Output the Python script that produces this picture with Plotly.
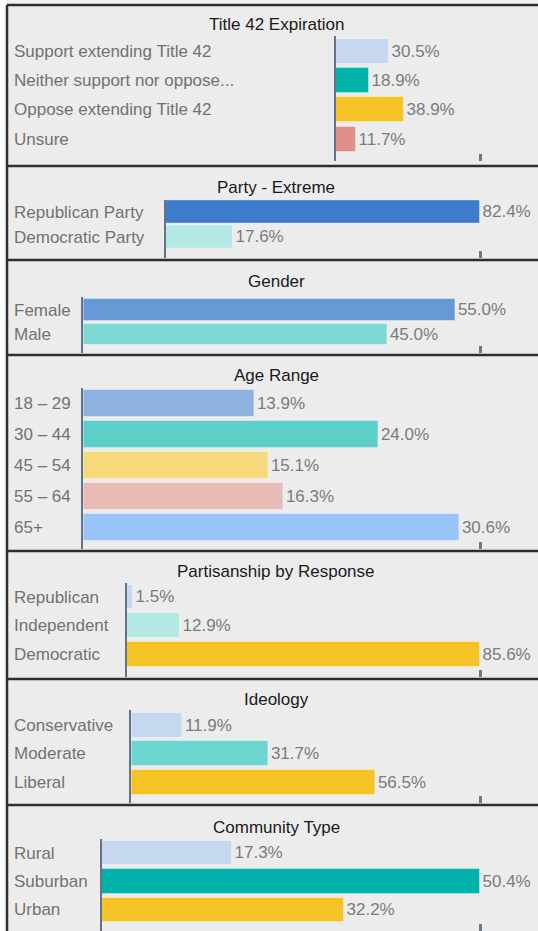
import plotly.graph_objects as go

# ---------------- data ----------------
titles = ["Title 42 Expiration", "Party - Extreme", "Gender", "Age Range",
          "Partisanship by Response", "Ideology", "Community Type"]

t42_labels = ["Support extending Title 42", "Neither support nor oppose...",
              "Oppose extending Title 42", "Unsure"]
t42_values = [30.5, 18.9, 38.9, 11.7]

party_labels = ["Republican Party", "Democratic Party"]
party_values = [82.4, 17.6]

gender_labels = ["Female", "Male"]
gender_values = [55.0, 45.0]

age_labels = ["18 – 29", "30 – 44", "45 – 54", "55 – 64", "65+"]
age_values = [13.9, 24.0, 15.1, 16.3, 30.6]

partisan_labels = ["Republican", "Independent", "Democratic"]
partisan_values = [1.5, 12.9, 85.6]

ideology_labels = ["Conservative", "Moderate", "Liberal"]
ideology_values = [11.9, 31.7, 56.5]

community_labels = ["Rural", "Suburban", "Urban"]
community_values = [17.3, 50.4, 32.2]

# ---------------- styles ----------------
t42_colors = ["#c5d8f0", "#00b2a9", "#f5c325", "#e0908a"]
party_colors = ["#3d7bcc", "#b3e8e4"]
gender_colors = ["#6699d6", "#7dd9d4"]
age_colors = ["#8fb3e0", "#5ccfc8", "#f7d97c", "#e8bbb6", "#99c4fa"]
partisan_colors = ["#c5d8f0", "#b3e8e4", "#f5c325"]
ideology_colors = ["#c5d8f0", "#6dd6d1", "#f5c325"]
community_colors = ["#c5d8f0", "#00b2a9", "#f5c325"]

panels = [
    (t42_labels, t42_values, t42_colors),
    (party_labels, party_values, party_colors),
    (gender_labels, gender_values, gender_colors),
    (age_labels, age_values, age_colors),
    (partisan_labels, partisan_values, partisan_colors),
    (ideology_labels, ideology_values, ideology_colors),
    (community_labels, community_values, community_colors),
]

# layout geometry in pixels
W, H = 538, 931
borders = [5, 166, 260, 355, 551, 679, 805]
title_offsets = [19, 21, 21, 21, 20, 20, 22]
# plot top, plot bottom, first row centre, row pitch, bar thickness, axis x, px per percent
geom = [
    (36, 161, 51.5, 29.17, 25.0, 336, 1.745),
    (199.5, 258, 212, 25.2, 22.5, 166, 3.811),
    (297, 353, 310, 24.5, 21.5, 83.4, 6.756),
    (388, 549, 403.5, 30.9, 26.8, 83.4, 12.28),
    (583, 677, 597, 28.7, 24.5, 127, 4.124),
    (710, 803, 725, 28.6, 25.0, 131.4, 4.326),
    (839, 931, 853, 28.4, 24.5, 102, 7.5),
]
TICK_X = 480
FONT = "Liberation Sans, Arial, sans-serif"
FS = 17

def py(p):
    return 1 - p / H

fig = go.Figure()
shapes = []
annotations = []

# top strip and panel backgrounds
shapes.append(dict(type="rect", xref="paper", yref="paper", x0=7 / W, x1=1,
                   y0=py(0), y1=py(5), fillcolor="#f2f2f2", line_width=0, layer="below"))
edges = borders + [H]
for i in range(len(borders)):
    shapes.append(dict(type="rect", xref="paper", yref="paper", x0=7 / W, x1=1,
                       y0=py(edges[i + 1]), y1=py(edges[i]),
                       fillcolor="#ececec", line_width=0, layer="below"))

for i, ((labels, values, colors), g) in enumerate(zip(panels, geom)):
    top, bot, c0, pitch, bh, x0, ppp = g
    n = i + 1
    xa = "x" if n == 1 else f"x{n}"
    ya = "y" if n == 1 else f"y{n}"
    fig.add_trace(go.Bar(
        x=values, y=labels, orientation="h",
        marker=dict(color=colors, line=dict(width=1, color="rgba(255,255,255,0.35)")),
        width=bh / pitch,
        text=[f"{v:.1f}%" for v in values], textposition="outside",
        textfont=dict(family=FONT, size=FS, color="#7b7b7b"),
        cliponaxis=False, constraintext="none",
        xaxis=xa, yaxis=ya, showlegend=False, hoverinfo="skip",
    ))
    xmax = (W - x0) / ppp
    xtick = (TICK_X - x0) / ppp
    top_idx = (top - c0) / pitch
    bot_idx = (bot - c0) / pitch
    fig.layout[f"xaxis{n if n > 1 else ''}"] = dict(
        domain=[x0 / W, 1], range=[0, xmax], anchor=ya,
        showgrid=False, zeroline=False, showline=False,
        ticks="inside", tickvals=[xtick], ticklen=7, tickwidth=2.5,
        tickcolor="#6a7b8c", showticklabels=False, fixedrange=True)
    fig.layout[f"yaxis{n if n > 1 else ''}"] = dict(
        domain=[py(bot), py(top)], range=[bot_idx, top_idx], anchor=xa,
        type="category", categoryorder="array", categoryarray=labels,
        showgrid=False, zeroline=False, showline=True, linecolor="#647486",
        linewidth=2, ticks="", showticklabels=False, fixedrange=True)
    for lab in labels:
        annotations.append(dict(text=lab, x=12 / W, xref="paper", xanchor="left",
                                y=lab, yref=ya, yanchor="middle", showarrow=False,
                                font=dict(family=FONT, size=FS, color="#727272")))
    annotations.append(dict(text=titles[i], x=276 / W, xref="paper", xanchor="center",
                            y=py(borders[i] + title_offsets[i]), yref="paper",
                            yanchor="middle", showarrow=False,
                            font=dict(family=FONT, size=FS, color="#1a1a1a")))

# border lines
for b in borders:
    shapes.append(dict(type="line", xref="paper", yref="paper", x0=7 / W, x1=1,
                       y0=py(b), y1=py(b), line=dict(color="#2e2e2e", width=2.5)))
shapes.append(dict(type="line", xref="paper", yref="paper", x0=7 / W, x1=7 / W,
                   y0=py(5), y1=0, line=dict(color="#2e2e2e", width=2.5)))

fig.update_layout(
    width=W, height=H, margin=dict(l=0, r=0, t=0, b=0),
    paper_bgcolor="white", plot_bgcolor="rgba(0,0,0,0)",
    shapes=shapes, annotations=annotations, bargap=0,
    font=dict(family=FONT),
)

fig.write_html("out.html", config={"displayModeBar": False},
               post_script="document.body.style.margin='0';")
